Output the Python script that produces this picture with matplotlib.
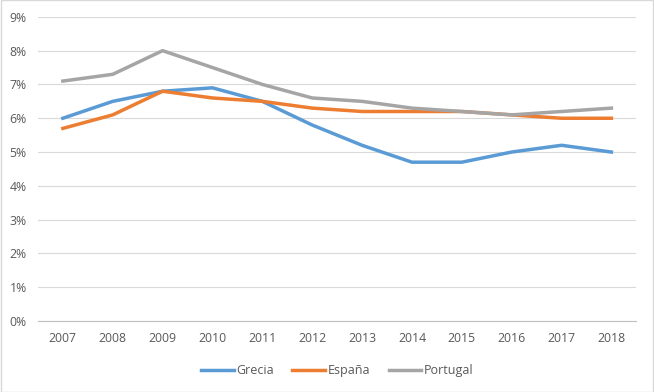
import matplotlib.pyplot as plt
from matplotlib.ticker import PercentFormatter

years = ["2007", "2008", "2009", "2010", "2011", "2012",
         "2013", "2014", "2015", "2016", "2017", "2018"]
grecia = [6.0, 6.5, 6.8, 6.9, 6.5, 5.8, 5.2, 4.7, 4.7, 5.0, 5.2, 5.0]
espana = [5.7, 6.1, 6.8, 6.6, 6.5, 6.3, 6.2, 6.2, 6.2, 6.1, 6.0, 6.0]
portugal = [7.1, 7.3, 8.0, 7.5, 7.0, 6.6, 6.5, 6.3, 6.2, 6.1, 6.2, 6.3]

plt.rcParams["font.family"] = ["Open Sans", "DejaVu Sans"]

fig = plt.figure(figsize=(6.54, 3.92), dpi=100)
ax = fig.add_axes([0.058, 0.181, 0.915, 0.776])

x = list(range(len(years)))
ax.plot(x, grecia, color="#5B9BD5", lw=2.5, label="Grecia")
ax.plot(x, espana, color="#ED7D31", lw=2.5, label="España")
ax.plot(x, portugal, color="#A5A5A5", lw=2.5, label="Portugal")

ax.set_xlim(-0.5, len(years) - 0.5)
ax.set_ylim(0, 9)
ax.set_yticks(range(0, 10))
ax.yaxis.set_major_formatter(PercentFormatter(decimals=0))
ax.set_xticks(x)
ax.set_xticklabels(years)

ax.grid(axis="y", color="#D9D9D9", lw=0.8)
ax.set_axisbelow(True)
for s in ["top", "right", "left"]:
    ax.spines[s].set_visible(False)
ax.spines["bottom"].set_color("#BFBFBF")
ax.tick_params(length=0, labelsize=8.8, colors="#595959", pad=8)

ax.legend(loc="upper center", bbox_to_anchor=(0.5, -0.105), ncol=3, frameon=False,
          fontsize=9, labelcolor="#595959", handlelength=2.6, handletextpad=0.2,
          columnspacing=1.5)

fig.patches.append(plt.Rectangle((0.001, 0.001), 0.998, 0.998, transform=fig.transFigure,
                                 fill=False, edgecolor="#D9D9D9", lw=1))

fig.savefig("out.png", dpi=100)
